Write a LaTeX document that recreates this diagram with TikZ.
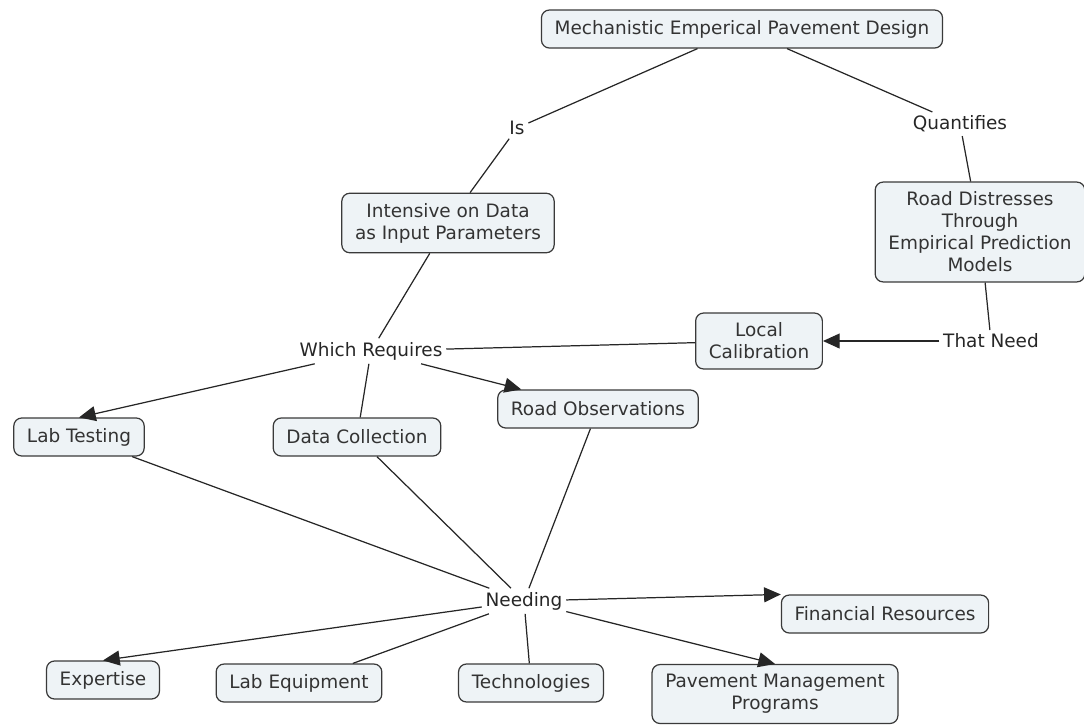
\documentclass[tikz,border=0pt]{standalone}
\usepackage{fontspec}
\setmainfont{DejaVu Sans}
\usetikzlibrary{arrows.meta}

\definecolor{boxfill}{HTML}{EEF3F6}
\definecolor{boxline}{HTML}{3A3A3A}
\definecolor{boxtext}{HTML}{333333}

\begin{document}
\begin{tikzpicture}[
    x=0.02cm, y=-0.02cm,
    font=\fontsize{10.5}{12.5}\selectfont,
    box/.style={draw=boxline, fill=boxfill, text=boxtext, rounded corners=4.5pt,
                line width=0.7pt, align=center, inner xsep=7.5pt, inner ysep=5.6pt,
                minimum height=0.76cm},
    phrase/.style={inner sep=2pt, text=black!85},
    link/.style={draw=black!85, line width=0.7pt},
    arr/.style={link, -{Triangle[length=9.5pt, width=8.5pt]}},
  ]
  \useasboundingbox (0,0) rectangle (1084,725);

  % ---------------------------------------------------------------
  % Concepts
  % ---------------------------------------------------------------
  \node[box] (mepd) at (742,29) {Mechanistic Emperical Pavement Design};
  \node[box] (intens) at (448,223) {Intensive on Data\\as Input Parameters};
  \node[box] (distr) at (980,232) {Road Distresses\\Through\\Empirical Prediction\\Models};
  \node[box] (localcal) at (759,341) {Local\\Calibration};
  \node[box] (labtest) at (79,437) {Lab Testing};
  \node[box] (datacol) at (357,437) {Data Collection};
  \node[box] (roadobs) at (598,409) {Road Observations};
  \node[box] (finres) at (885,614) {Financial Resources};
  \node[box] (expert) at (103,680) {Expertise};
  \node[box] (labequip) at (299,683) {Lab Equipment};
  \node[box] (tech) at (531,683) {Technologies};
  \node[box] (pmp) at (775,694) {Pavement Management\\Programs};

  % ---------------------------------------------------------------
  % Linking phrases
  % ---------------------------------------------------------------
  \node[phrase] (isl) at (517,128) {Is};
  \node[phrase] (quant) at (960,124) {Quantifies};
  \node[phrase] (whichreq) at (371,351) {Which Requires};
  \node[phrase] (thatneed) at (991,341) {That Need};
  \node[phrase] (needing) at (524,601) {Needing};

  % ---------------------------------------------------------------
  % Links (arrow tips land on the box tops where the map puts them)
  % ---------------------------------------------------------------
  \path[link] (mepd) -- (isl);
  \path[link] (isl) -- (intens);
  \path[link] (mepd) -- (quant);
  \path[link] (quant) -- (distr);
  \path[link] (intens) -- (whichreq);
  \path[link] (distr) -- (thatneed);
  \path[arr] (thatneed) -- (localcal);
  \path[link] (localcal) -- (whichreq);
  \path[arr] (whichreq) -- (labtest.north);
  \path[link] (whichreq) -- (datacol);
  \path[arr] (whichreq) -- (roadobs);

  \path[link] (labtest) -- (needing);
  \path[link] (datacol) -- (needing);
  \path[link] (roadobs) -- (needing);
  \path[arr] (needing) -- (finres.north west);
  \path[arr] (needing) -- (expert.north);
  \path[link] (needing) -- (labequip);
  \path[link] (needing) -- (tech);
  \path[arr] (needing) -- (pmp.north);
\end{tikzpicture}
\end{document}
